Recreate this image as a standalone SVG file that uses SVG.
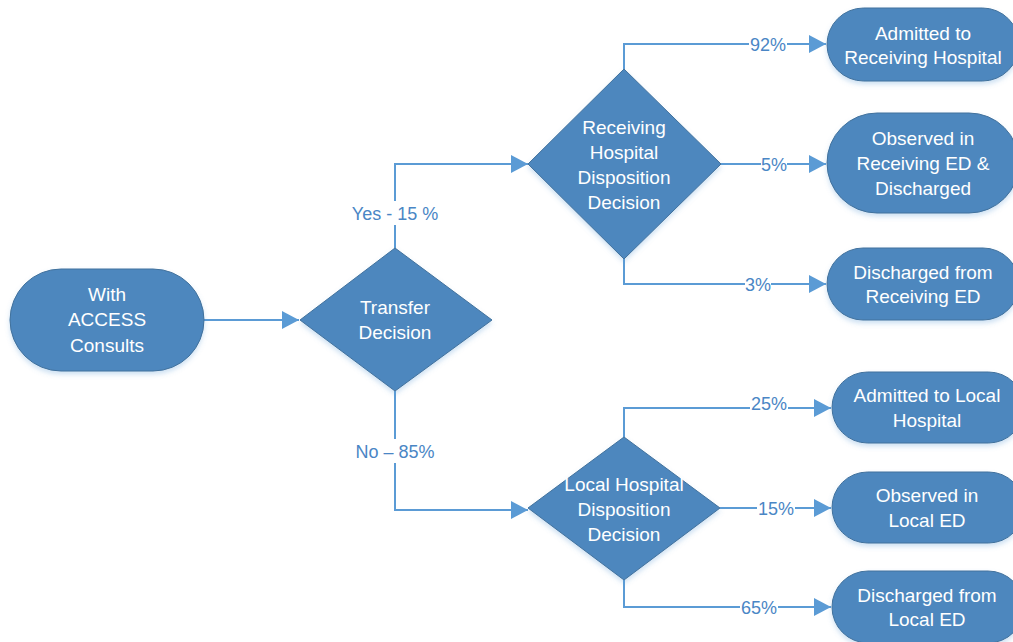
<svg xmlns="http://www.w3.org/2000/svg" width="1013" height="642" viewBox="0 0 1013 642">
  <defs>
    <marker id="arrow" markerUnits="userSpaceOnUse" markerWidth="18" markerHeight="20" refX="17" refY="9" orient="auto">
      <path d="M0,0 L17,9 L0,18 Z" fill="#5B9BD5"/>
    </marker>
    <filter id="shadow" x="-10%" y="-10%" width="120%" height="130%">
      <feDropShadow dx="0" dy="3" stdDeviation="2.5" flood-color="#5B9BD5" flood-opacity="0.3"/>
    </filter>
  </defs>
  <style>
    .shape { fill: #4E87BE; stroke: #41719C; stroke-width: 1; filter: url(#shadow); }
    .label { font-family: "Liberation Sans", Arial, sans-serif; font-size: 19px; fill: #FFFFFF; text-anchor: middle; }
    .edge { fill: none; stroke: #5B9BD5; stroke-width: 2; marker-end: url(#arrow); }
    .elabel { font-family: "Liberation Sans", Arial, sans-serif; font-size: 18px; fill: #4A86C5; text-anchor: middle; }
    .lblbg { fill: #FFFFFF; }
  </style>
  <rect width="1013" height="642" fill="#FFFFFF"/>

  <!-- connectors -->
  <g id="connectors">
    <path class="edge" d="M204,320 L299,320"/>
    <path class="edge" d="M395,248 L395,164 L528,164"/>
    <path class="edge" d="M395,391 L395,510 L528,510"/>
    <path class="edge" d="M624,69 L624,44 L826,44"/>
    <path class="edge" d="M721,164 L826,164"/>
    <path class="edge" d="M624,259 L624,284 L826,284"/>
    <path class="edge" d="M624,437 L624,408 L831,408"/>
    <path class="edge" d="M720,508 L831,508"/>
    <path class="edge" d="M624,580 L624,607 L831,607"/>

    <!-- connector labels -->
    <rect class="lblbg" x="350" y="201" width="90" height="24"/>
    <text class="elabel" x="395" y="219.5">Yes - 15 %</text>
    <rect class="lblbg" x="352" y="439" width="86" height="24"/>
    <text class="elabel" x="395" y="457.5">No – 85%</text>
    <rect class="lblbg" x="749" y="33" width="38" height="22"/>
    <text class="elabel" x="768" y="50.5">92%</text>
    <rect class="lblbg" x="761" y="153" width="26" height="22"/>
    <text class="elabel" x="774" y="170.5">5%</text>
    <rect class="lblbg" x="745" y="273" width="26" height="22"/>
    <text class="elabel" x="758" y="290.5">3%</text>
    <rect class="lblbg" x="750" y="393" width="38" height="20"/>
    <text class="elabel" x="769" y="410">25%</text>
    <rect class="lblbg" x="757" y="497" width="38" height="22"/>
    <text class="elabel" x="776" y="514.5">15%</text>
    <rect class="lblbg" x="740" y="596" width="38" height="22"/>
    <text class="elabel" x="759" y="613.5">65%</text>
  </g>

  <!-- start -->
  <g id="with-access">
    <rect class="shape" x="10" y="269" width="194" height="102" rx="51" ry="51"/>
    <text class="label" x="107" y="300.8">With</text>
    <text class="label" x="107" y="326.3">ACCESS</text>
    <text class="label" x="107" y="351.8">Consults</text>
  </g>

  <!-- decisions -->
  <g id="transfer-decision">
    <polygon class="shape" points="395,248 492,320 395,391 300,320"/>
    <text class="label" x="395" y="313.8">Transfer</text>
    <text class="label" x="395" y="338.8">Decision</text>
  </g>

  <g id="receiving-decision">
    <polygon class="shape" points="624,69 721,164 624,259 528,164"/>
    <text class="label" x="624" y="133.8">Receiving</text>
    <text class="label" x="624" y="158.8">Hospital</text>
    <text class="label" x="624" y="183.8">Disposition</text>
    <text class="label" x="624" y="208.8">Decision</text>
  </g>

  <g id="local-decision">
    <polygon class="shape" points="624,437 720,508 624,580 528,508"/>
    <text class="label" x="624" y="490.8">Local Hospital</text>
    <text class="label" x="624" y="515.8">Disposition</text>
    <text class="label" x="624" y="540.8">Decision</text>
  </g>

  <!-- outcomes: receiving hospital -->
  <g id="admitted-receiving">
    <rect class="shape" x="827" y="8" width="192" height="73" rx="36.5" ry="36.5"/>
    <text class="label" x="923" y="39.8">Admitted to</text>
    <text class="label" x="923" y="63.8">Receiving Hospital</text>
  </g>

  <g id="observed-receiving">
    <rect class="shape" x="827" y="113" width="192" height="100" rx="50" ry="50"/>
    <text class="label" x="923" y="144.8">Observed in</text>
    <text class="label" x="923" y="169.8">Receiving ED &amp;</text>
    <text class="label" x="923" y="194.8">Discharged</text>
  </g>

  <g id="discharged-receiving">
    <rect class="shape" x="827" y="248" width="192" height="72" rx="36" ry="36"/>
    <text class="label" x="923" y="278.8">Discharged from</text>
    <text class="label" x="923" y="302.8">Receiving ED</text>
  </g>

  <!-- outcomes: local hospital -->
  <g id="admitted-local">
    <rect class="shape" x="832" y="372" width="192" height="71" rx="35.5" ry="35.5"/>
    <text class="label" x="927" y="401.8">Admitted to Local</text>
    <text class="label" x="927" y="426.8">Hospital</text>
  </g>

  <g id="observed-local">
    <rect class="shape" x="832" y="472" width="192" height="71" rx="35.5" ry="35.5"/>
    <text class="label" x="927" y="501.8">Observed in</text>
    <text class="label" x="927" y="526.8">Local ED</text>
  </g>

  <g id="discharged-local">
    <rect class="shape" x="832" y="571" width="192" height="72" rx="36" ry="36"/>
    <text class="label" x="927" y="601.8">Discharged from</text>
    <text class="label" x="927" y="625.8">Local ED</text>
  </g>
</svg>
